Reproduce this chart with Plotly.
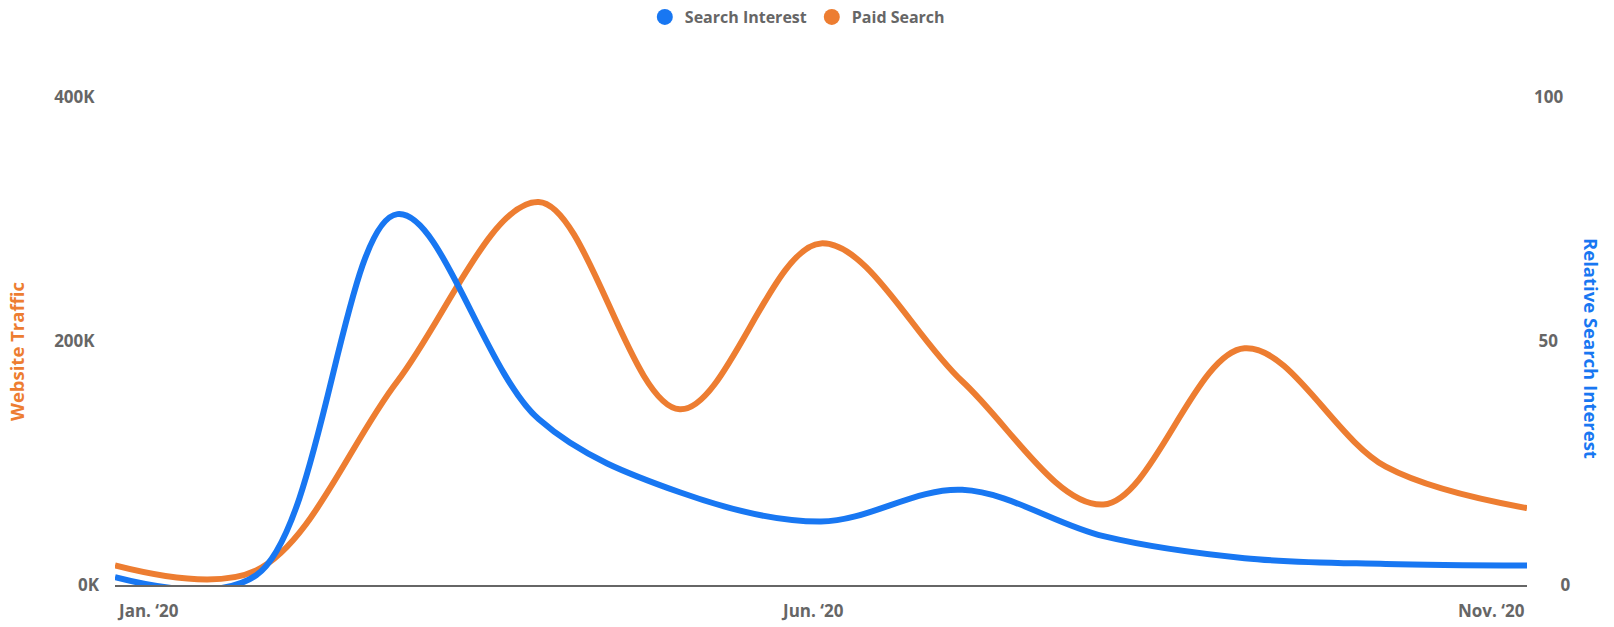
import plotly.graph_objects as go

# Monthly series, Jan–Nov 2020
months = ["Jan. ‘20", "Feb. ‘20", "Mar. ‘20", "Apr. ‘20", "May. ‘20", "Jun. ‘20",
          "Jul. ‘20", "Aug. ‘20", "Sep. ‘20", "Oct. ‘20", "Nov. ‘20"]
paid_search = [16000, 12000, 167000, 314000, 144000, 280000, 167000, 66000, 194000, 97000, 63000]
search_interest = [1.6, 2, 76, 34, 19, 13, 19.5, 10, 5.5, 4.3, 4]

left_ticks = [0, 200000, 400000]
left_tick_text = ["0K", "200K\u00a0", "400K\u00a0"]
right_ticks = [0, 50, 100]
right_tick_text = ["\u00a0" * 6 + "0", "\u00a0" + "50", "100"]
shown_months = ["Jan. ‘20", "Jun. ‘20", "Nov. ‘20"]

BLUE = "#1877F2"
ORANGE = "#ED7D31"
GREY = "#666666"
FONT = "Open Sans"
SMOOTH = 1.0

x_idx = list(range(len(months)))

fig = go.Figure()

fig.add_trace(go.Scatter(
    x=x_idx, y=search_interest, yaxis="y2", mode="lines",
    line=dict(color=BLUE, width=6, shape="spline", smoothing=SMOOTH),
    name="Search Interest", showlegend=False,
))
fig.add_trace(go.Scatter(
    x=x_idx, y=paid_search, yaxis="y", mode="lines",
    line=dict(color=ORANGE, width=6, shape="spline", smoothing=SMOOTH),
    name="Paid Search", showlegend=False,
))

# Legend entries drawn as round swatches
for name, color in [("Search Interest", BLUE), ("Paid Search", ORANGE)]:
    fig.add_trace(go.Scatter(
        x=[None], y=[None], mode="markers", name=name,
        marker=dict(color=color, size=17, symbol="circle"),
        showlegend=True,
    ))

W, H = 1614, 627
L, R, T, B = 115, 87, 97, 42


def px_to_paper(px, py):
    return (px - L) / (W - L - R), (H - B - py) / (H - T - B)


annotations = []
# Month labels under the axis: first left-aligned, middle centred, last right-aligned
anchors = {"Jan. ‘20": ("left", 0), "Jun. ‘20": ("center", -9), "Nov. ‘20": ("right", 0)}
for m in shown_months:
    xa, xs = anchors[m]
    annotations.append(dict(
        x=months.index(m), y=0, xref="x", yref="paper", yanchor="top",
        xanchor=xa, xshift=xs, yshift=-12, showarrow=False, text=m,
        font=dict(family=FONT, size=17, color=GREY, weight=700),
    ))
# Axis titles
tx, ty = px_to_paper(16, 352)
annotations.append(dict(
    x=tx, y=ty, xref="paper", yref="paper", xanchor="center", yanchor="middle",
    text="Website Traffic", textangle=-90, showarrow=False,
    font=dict(family=FONT, size=18.5, color=ORANGE, weight=700),
))
tx, ty = px_to_paper(1592, 348)
annotations.append(dict(
    x=tx, y=ty, xref="paper", yref="paper", xanchor="center", yanchor="middle",
    text="Relative Search Interest", textangle=90, showarrow=False,
    font=dict(family=FONT, size=18.5, color=BLUE, weight=700),
))

fig.update_layout(
    width=W, height=H,
    margin=dict(l=L, r=R, t=T, b=B),
    plot_bgcolor="white", paper_bgcolor="white",
    font=dict(family=FONT, color=GREY, weight=700),
    xaxis=dict(
        type="linear", range=[0, len(months) - 1],
        showgrid=False, zeroline=False, showticklabels=False,
        showline=True, linecolor=GREY, linewidth=2, ticks="",
    ),
    yaxis=dict(
        range=[0, 400000], tickvals=left_ticks, ticktext=left_tick_text,
        showgrid=False, zeroline=False, showline=False, ticks="",
        ticklabelstandoff=15,
        tickfont=dict(family=FONT, size=17, color=GREY, weight=700),
    ),
    yaxis2=dict(
        range=[0, 100], tickvals=right_ticks, ticktext=right_tick_text,
        overlaying="y", side="right",
        showgrid=False, zeroline=False, showline=False, ticks="",
        ticklabelstandoff=6,
        tickfont=dict(family=FONT, size=17, color=GREY, weight=700),
    ),
    legend=dict(
        orientation="h", x=0.494, xref="container", xanchor="center",
        y=1.0, yref="container", yanchor="top",
        font=dict(family=FONT, size=16, color=GREY, weight=700),
        itemsizing="trace", itemwidth=30,
    ),
    annotations=annotations,
    showlegend=True,
)

fig.write_html("out.html")
